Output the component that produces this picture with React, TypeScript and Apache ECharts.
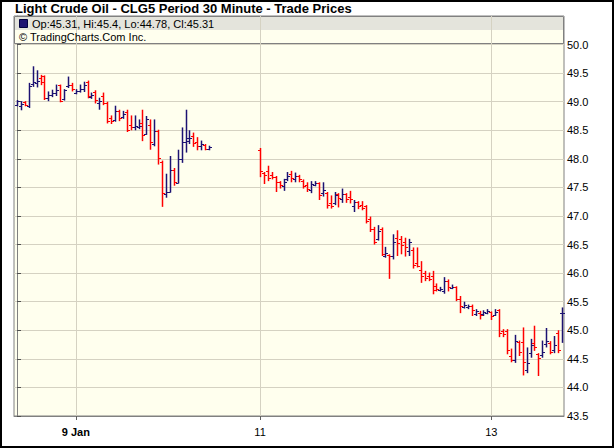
import React, { useEffect, useRef } from 'react';
import * as echarts from 'echarts';

// Bar slots (30-minute bars). Session 1: slots 0..49, session 2: slots 62..139
const sessionStarts = [0, 62];
const sessionLengths = [50, 78];

const opens = [
  48.94, 48.92, 48.99, 48.92, 49.31, 49.33, 49.42, 49.45, 49.07, 49.12,
  49.15, 49.29, 49.04, 49.27, 49.30, 49.16, 49.19, 49.22, 49.34, 49.08,
  49.17, 48.98, 49.10, 48.98, 48.72, 48.68, 48.84, 48.74, 48.82, 48.60,
  48.55, 48.56, 48.62, 48.44, 48.60, 48.26, 48.48, 47.95, 47.38, 47.42,
  47.80, 47.58, 48.00, 48.30, 48.32, 48.40, 48.30, 48.22, 48.24, 48.18,
  // session 2
  48.16, 47.76, 47.78, 47.72, 47.68, 47.60, 47.52, 47.64, 47.74, 47.64,
  47.70, 47.62, 47.55, 47.45, 47.55, 47.57, 47.40, 47.40, 47.22, 47.22,
  47.38, 47.30, 47.38, 47.34, 47.18, 47.24, 47.20, 47.17, 46.95, 46.78,
  46.60, 46.78, 46.30, 46.32, 46.30, 46.62, 46.60, 46.55, 46.38, 46.40,
  46.18, 46.05, 46.00, 45.95, 45.95, 45.78, 45.70, 45.68, 45.87, 45.74,
  45.75, 45.55, 45.40, 45.40, 45.42, 45.28, 45.30, 45.28, 45.30, 45.32,
  45.27, 45.35, 44.98, 44.98, 44.55, 44.48, 44.80, 44.80, 44.30, 44.60,
  44.78, 44.58, 44.56, 44.76, 44.78, 44.65, 44.96, 45.31,
];
const highs = [
  49.03, 49.01, 49.01, 49.33, 49.62, 49.55, 49.47, 49.46, 49.18, 49.21,
  49.30, 49.30, 49.22, 49.44, 49.33, 49.22, 49.30, 49.35, 49.37, 49.16,
  49.20, 49.07, 49.16, 49.00, 48.76, 48.93, 48.86, 48.84, 48.86, 48.76,
  48.76, 48.69, 48.86, 48.75, 48.69, 48.69, 48.51, 47.97, 47.74, 48.05,
  47.84, 48.16, 48.55, 48.86, 48.50, 48.46, 48.38, 48.32, 48.26, 48.23,
  // session 2
  48.19, 47.77, 47.88, 47.77, 47.70, 47.61, 47.65, 47.77, 47.79, 47.76,
  47.72, 47.64, 47.59, 47.61, 47.61, 47.59, 47.59, 47.42, 47.36, 47.42,
  47.40, 47.48, 47.40, 47.44, 47.28, 47.26, 47.26, 47.19, 46.99, 46.81,
  46.84, 46.80, 46.46, 46.33, 46.68, 46.75, 46.65, 46.62, 46.60, 46.45,
  46.45, 46.21, 46.04, 46.01, 46.04, 45.82, 45.76, 45.93, 45.89, 45.80,
  45.77, 45.60, 45.50, 45.45, 45.45, 45.37, 45.34, 45.35, 45.37, 45.33,
  45.37, 45.37, 45.02, 45.02, 44.68, 44.92, 44.82, 45.05, 44.70, 44.85,
  45.08, 44.60, 44.82, 45.04, 44.81, 44.90, 45.00, 45.40,
];
const lows = [
  48.92, 48.85, 48.92, 48.89, 49.26, 49.25, 49.29, 49.03, 49.01, 49.08,
  49.10, 48.99, 49.02, 49.24, 49.18, 49.13, 49.16, 49.17, 49.06, 49.05,
  48.97, 48.86, 48.94, 48.62, 48.61, 48.65, 48.66, 48.70, 48.47, 48.50,
  48.50, 48.52, 48.31, 48.42, 48.16, 48.22, 47.90, 47.16, 47.32, 47.41,
  47.53, 47.57, 47.93, 48.11, 48.26, 48.21, 48.15, 48.15, 48.15, 48.15,
  // session 2
  47.68, 47.56, 47.61, 47.64, 47.42, 47.48, 47.44, 47.61, 47.59, 47.59,
  47.59, 47.48, 47.42, 47.40, 47.52, 47.28, 47.34, 47.13, 47.13, 47.19,
  47.15, 47.23, 47.23, 47.22, 47.07, 47.12, 47.10, 46.87, 46.72, 46.50,
  46.57, 46.30, 46.27, 45.90, 46.24, 46.30, 46.33, 46.29, 46.30, 46.08,
  46.10, 45.83, 45.86, 45.86, 45.63, 45.68, 45.68, 45.64, 45.68, 45.72,
  45.51, 45.30, 45.38, 45.37, 45.25, 45.25, 45.19, 45.25, 45.28, 45.18,
  45.25, 44.88, 44.88, 44.58, 44.44, 44.43, 44.55, 44.21, 44.25, 44.52,
  44.64, 44.20, 44.52, 44.70, 44.58, 44.60, 44.60, 44.78,
];
const closes = [
  49.01, 48.96, 48.95, 49.28, 49.34, 49.37, 49.34, 49.06, 49.12, 49.15,
  49.20, 49.02, 49.20, 49.30, 49.22, 49.19, 49.22, 49.30, 49.10, 49.12,
  49.03, 49.02, 48.98, 48.66, 48.66, 48.84, 48.72, 48.78, 48.50, 48.56,
  48.58, 48.58, 48.42, 48.70, 48.30, 48.48, 48.02, 47.40, 47.42, 47.80,
  47.60, 48.00, 48.30, 48.36, 48.36, 48.28, 48.22, 48.26, 48.18, 48.20,
  // session 2
  47.78, 47.72, 47.66, 47.68, 47.60, 47.55, 47.60, 47.70, 47.66, 47.70,
  47.64, 47.52, 47.48, 47.56, 47.58, 47.36, 47.46, 47.20, 47.18, 47.36,
  47.32, 47.38, 47.30, 47.30, 47.25, 47.18, 47.14, 46.92, 46.78, 46.55,
  46.74, 46.33, 46.35, 46.30, 46.55, 46.52, 46.50, 46.45, 46.55, 46.15,
  46.12, 45.95, 45.92, 45.90, 45.70, 45.72, 45.73, 45.86, 45.75, 45.76,
  45.55, 45.42, 45.45, 45.43, 45.35, 45.33, 45.27, 45.32, 45.33, 45.25,
  45.32, 44.95, 44.94, 44.66, 44.48, 44.82, 44.62, 44.45, 44.42, 44.75,
  44.70, 44.52, 44.62, 44.82, 44.62, 44.75, 44.65, 45.31,
];

const xTickSlots = [15, 62, 121];
const xTickLabels = ['9 Jan', '11', '13'];

const TITLE = 'Light Crude Oil - CLG5 Period 30 Minute - Trade Prices';
const LEGEND_TEXT = 'Op:45.31, Hi:45.4, Lo:44.78, Cl:45.31';
const CREDIT = '\u00A9 TradingCharts.Com Inc.';

const BLUE = '#1c1272';
const RED = '#ff0000';
const GRID_COLOR = '#d5d2c2';
const FONT = '"Liberation Sans", Arial, sans-serif';

const Y_MIN = 43.5;
const Y_MAX = 50.5;

export default function App() {
  const ref = useRef<HTMLDivElement>(null);

  useEffect(() => {
    if (!ref.current) return;
    const chart = echarts.init(ref.current, undefined, { renderer: 'svg' });

    const slots: number[] = [];
    sessionStarts.forEach((s, k) => {
      for (let j = 0; j < sessionLengths[k]; j++) slots.push(s + j);
    });
    const data = slots.map((slot, k) => [slot, opens[k], highs[k], lows[k], closes[k]]);

    const option: any = {
      animation: false,
      backgroundColor: '#ffffff',
      grid: {
        left: 14,
        top: 16,
        right: 50,
        bottom: 32,
        show: true,
        backgroundColor: '#ffffee',
        borderColor: '#808080',
        borderWidth: 1,
      },
      xAxis: {
        type: 'value',
        min: -0.77,
        max: 139.54,
        axisLine: { show: true, onZero: false, lineStyle: { color: '#808080', width: 1 } },
        axisTick: {
          show: true,
          customValues: xTickSlots,
          length: 4,
          lineStyle: { color: '#606060' },
        },
        axisLabel: {
          customValues: xTickSlots,
          margin: 10,
          fontSize: 11,
          fontFamily: FONT,
          color: '#000000',
          formatter: (v: number) => {
            const k = xTickSlots.indexOf(Math.round(v));
            if (k < 0) return '';
            return k === 0 ? '{b|' + xTickLabels[k] + '}' : xTickLabels[k];
          },
          rich: { b: { fontWeight: 'bold', fontSize: 11, fontFamily: FONT, color: '#000000' } },
        },
        splitLine: { show: false },
      },
      yAxis: {
        type: 'value',
        position: 'right',
        min: Y_MIN,
        max: Y_MAX,
        interval: 0.5,
        axisLine: { show: true, lineStyle: { color: '#808080', width: 1 } },
        axisTick: { show: true, length: 4, lineStyle: { color: '#505050' } },
        axisLabel: {
          margin: 3,
          fontSize: 11,
          fontFamily: FONT,
          color: '#000000',
          showMaxLabel: false,
          formatter: (v: number) => v.toFixed(1),
        },
        splitLine: { show: true, lineStyle: { color: GRID_COLOR, width: 1 } },
      },
      graphic: [
        {
          type: 'rect',
          z: 0.5,
          shape: { x: 1, y: 1, width: 612, height: 446 },
          style: { fill: 'none', stroke: '#000000', lineWidth: 2 },
          silent: true,
        },
        {
          type: 'text',
          z: 5,
          x: 15,
          y: 2,
          style: {
            text: TITLE,
            font: 'bold 13px ' + FONT,
            fill: '#000000',
          },
        },
        {
          type: 'rect',
          z: 0.5,
          shape: { x: 14, y: 16, width: 550, height: 14 },
          style: { fill: '#e4e4dc' },
          silent: true,
        },
        {
          type: 'rect',
          z: 0.5,
          shape: { x: 14, y: 30, width: 550, height: 13 },
          style: { fill: '#ffffee' },
          silent: true,
        },
        {
          type: 'rect',
          z: 0.6,
          shape: { x: 14.5, y: 16.5, width: 549, height: 27 },
          style: { fill: 'none', stroke: '#808080', lineWidth: 1 },
          silent: true,
        },
        {
          type: 'rect',
          z: 5,
          shape: { x: 19.5, y: 19.5, width: 8, height: 8 },
          style: { fill: BLUE, stroke: '#000040', lineWidth: 1 },
          silent: true,
        },
        {
          type: 'text',
          z: 5,
          x: 32,
          y: 23.5,
          style: {
            text: LEGEND_TEXT,
            font: '11px ' + FONT,
            fill: '#000000',
            verticalAlign: 'middle',
          },
        },
        {
          type: 'text',
          z: 5,
          x: 19,
          y: 37,
          style: {
            text: CREDIT,
            font: '11px ' + FONT,
            fill: '#000000',
            verticalAlign: 'middle',
          },
        },
      ],
      series: [
        {
          type: 'custom',
          name: 'daylines',
          z: 1,
          silent: true,
          data: xTickSlots.map((v) => [v]),
          encode: { x: 0 },
          renderItem: (params: any, api: any) => {
            const v = api.value(0);
            const top = api.coord([v, Y_MAX]);
            const bot = api.coord([v, Y_MIN]);
            const x = Math.round(top[0]) + 0.5;
            return {
              type: 'line',
              shape: { x1: x, y1: top[1], x2: x, y2: bot[1] },
              style: { stroke: GRID_COLOR, lineWidth: 1 },
            };
          },
        },
        {
          type: 'custom',
          name: 'CLG5',
          z: 2,
          data,
          encode: { x: 0, y: [1, 2, 3, 4] },
          renderItem: (params: any, api: any) => {
            const x0 = api.value(0);
            const o = api.value(1);
            const h = api.value(2);
            const l = api.value(3);
            const c = api.value(4);
            const pH = api.coord([x0, h]);
            const pL = api.coord([x0, l]);
            const pO = api.coord([x0, o]);
            const pC = api.coord([x0, c]);
            const color = c >= o ? BLUE : RED;
            const x = Math.round(pH[0]) + 0.5;
            const yO = Math.round(pO[1]) + 0.5;
            const yC = Math.round(pC[1]) + 0.5;
            const st = { stroke: color, lineWidth: 1.5 };
            return {
              type: 'group',
              children: [
                { type: 'line', shape: { x1: x, y1: pH[1], x2: x, y2: pL[1] }, style: st },
                { type: 'line', shape: { x1: x - 2.5, y1: yO, x2: x, y2: yO }, style: { stroke: color, lineWidth: 1 } },
                { type: 'line', shape: { x1: x, y1: yC, x2: x + 2.5, y2: yC }, style: { stroke: color, lineWidth: 1 } },
              ],
            };
          },
        },
      ],
    };

    chart.setOption(option);
    return () => {
      chart.dispose();
    };
  }, []);

  return (
    <div
      ref={ref}
      style={{ position: 'fixed', left: 0, top: 0, width: 614, height: 448, background: '#ffffff' }}
    />
  );
}
